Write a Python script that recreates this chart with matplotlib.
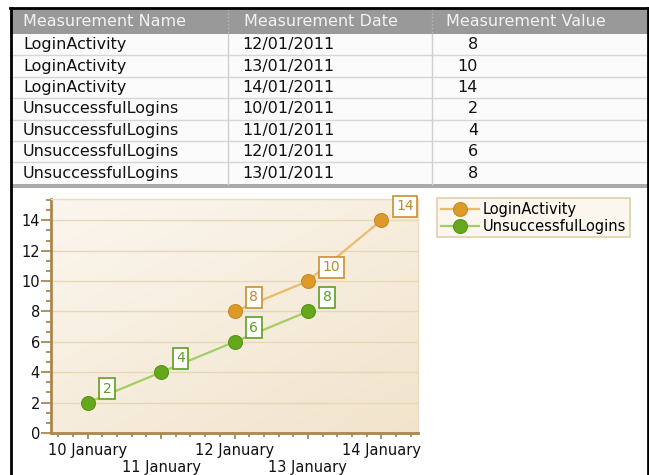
"""Tabela pomiarow + wykres liniowy (LoginActivity / UnsuccessfulLogins)."""
import matplotlib
matplotlib.use("Agg")
import matplotlib.pyplot as plt
import matplotlib.dates as mdates
import numpy as np
from matplotlib.colors import LinearSegmentedColormap
from matplotlib.ticker import MultipleLocator, FuncFormatter

# --- dane ---
HEADERS = ["Measurement Name", "Measurement Date", "Measurement Value"]
ROW_NAMES = ["LoginActivity", "LoginActivity", "LoginActivity",
             "UnsuccessfulLogins", "UnsuccessfulLogins",
             "UnsuccessfulLogins", "UnsuccessfulLogins"]
ROW_DATES = ["12/01/2011", "13/01/2011", "14/01/2011",
             "10/01/2011", "11/01/2011", "12/01/2011", "13/01/2011"]
ROW_VALUES = [8, 10, 14, 2, 4, 6, 8]

LOGIN_DATES = np.array(["2011-01-12", "2011-01-13", "2011-01-14"], dtype="datetime64[D]")
LOGIN_VALUES = [8, 10, 14]
UNSUCC_DATES = np.array(["2011-01-10", "2011-01-11", "2011-01-12", "2011-01-13"],
                        dtype="datetime64[D]")
UNSUCC_VALUES = [2, 4, 6, 8]

SERIES = [
    ("LoginActivity", LOGIN_DATES, LOGIN_VALUES,
     dict(marker="#dd9a2a", edge="#c98a20", line="#eabb6c", box="#c8902e", text="#c08a2a")),
    ("UnsuccessfulLogins", UNSUCC_DATES, UNSUCC_VALUES,
     dict(marker="#66a81c", edge="#559416", line="#a2cf62", box="#5f9e22", text="#5f9e22")),
]

W, H = 649, 475
fig = plt.figure(figsize=(W / 100, H / 100), dpi=100)
fig.patch.set_facecolor("white")

# --- tlo strony / tabela (wspolrzedne w pikselach) ---
bg = fig.add_axes([0, 0, 1, 1], zorder=0)
bg.set_xlim(0, W)
bg.set_ylim(H, 0)
bg.axis("off")

COL_X = [10, 228, 432, 648]
HEAD_TOP, HEAD_BOT = 9, 34
ROW_H = 21.4
n_rows = len(ROW_NAMES)
table_bot = HEAD_BOT + n_rows * ROW_H

bg.fill_between([COL_X[0], COL_X[-1]], HEAD_TOP, HEAD_BOT, color="#999999", lw=0)
bg.fill_between([COL_X[0], COL_X[-1]], HEAD_BOT, table_bot, color="#fbfbfb", lw=0)
bg.fill_between([COL_X[0], COL_X[-1]], table_bot, table_bot + 4, color="#ababab", lw=0)
for i in range(1, n_rows):
    y = HEAD_BOT + i * ROW_H
    bg.plot([COL_X[0], COL_X[-1]], [y, y], color="#d6d6d6", lw=1)
for x in COL_X[1:-1]:
    bg.plot([x, x], [HEAD_TOP, HEAD_BOT], color="#bbbbbb", lw=1, ls=":")
    bg.plot([x, x], [HEAD_BOT, table_bot], color="#d0d0d0", lw=1)

head_x = [23, 244, 446]
for hx, txt in zip(head_x, HEADERS):
    bg.text(hx, (HEAD_TOP + HEAD_BOT) / 2, txt, color="#f2f2f2", fontsize=11.5,
            ha="left", va="center")
for i, (nm, dt, val) in enumerate(zip(ROW_NAMES, ROW_DATES, ROW_VALUES)):
    yc = HEAD_BOT + (i + 0.5) * ROW_H
    bg.text(23, yc, nm, fontsize=11.5, ha="left", va="center", color="#111111")
    bg.text(242, yc, dt, fontsize=11.5, ha="left", va="center", color="#111111")
    bg.text(478, yc, str(val), fontsize=11.5, ha="right", va="center", color="#111111")

# ramka strony
bg.plot([10.5, 10.5], [8, H], color="black", lw=2)
bg.plot([647.5, 647.5], [8, H], color="black", lw=2)
bg.plot([10, 648], [8, 8], color="black", lw=2)

# --- wykres ---
ax = fig.add_axes([51 / W, (H - 433) / H, (418 - 51) / W, (433 - 199) / H], zorder=2)
x0 = mdates.date2num(np.datetime64("2011-01-10"))
ax.set_xlim(x0 - 0.5, x0 + 4.5)
ax.set_ylim(0, 15.4)

# tlo panelu: jasne w lewym gornym rogu, ciemniejsze w prawym dolnym
cmap = LinearSegmentedColormap.from_list("bgpanel", ["#fbf6ee", "#f2e4cc"])
gx, gy = np.meshgrid(np.linspace(0, 1, 64), np.linspace(0, 1, 64))
ax.imshow(0.45 * gx + 0.55 * gy, cmap=cmap, aspect="auto", zorder=0,
          extent=(*ax.get_xlim(), 0, 15.4), interpolation="bilinear")
ax.set_ylim(0, 15.4)

ax.yaxis.set_major_locator(MultipleLocator(2))
ax.yaxis.set_minor_locator(MultipleLocator(2 / 3))
ax.xaxis.set_major_locator(MultipleLocator(1))
ax.xaxis.set_minor_locator(MultipleLocator(0.2))
ax.grid(axis="y", which="major", color="#e6d7b6", lw=1, zorder=1)


def day_label(v, pos):
    d = mdates.num2date(v)
    lab = f"{d.day} January"
    return lab if (d.day % 2 == 0) else "\n" + lab


ax.xaxis.set_major_formatter(FuncFormatter(day_label))

tick_c = "#a8884e"
ax.tick_params(axis="y", which="major", length=7, width=1.3, color=tick_c,
               labelsize=10.5, pad=1)
ax.tick_params(axis="y", which="minor", length=3.5, width=1.3, color=tick_c)
ax.tick_params(axis="x", which="major", length=4, width=1.3, color=tick_c,
               labelsize=10.5, pad=3)
ax.tick_params(axis="x", which="minor", length=3, width=1.3, color=tick_c)
for lab in ax.get_xticklabels() + ax.get_yticklabels():
    lab.set_color("#111111")

for side in ("left", "bottom"):
    ax.spines[side].set_color(tick_c)
    ax.spines[side].set_linewidth(2)
for side in ("top", "right"):
    ax.spines[side].set_color("#eadcbf")
    ax.spines[side].set_linewidth(1)

for name, dates, vals, c in SERIES:
    xs = mdates.date2num(dates)
    ax.plot(xs, vals, color=c["line"], lw=1.6, zorder=3)
    ax.plot(xs, vals, ls="none", marker="o", ms=10, mfc=c["marker"],
            mec=c["edge"], mew=0.8, zorder=4, label=name)
    for xv, yv in zip(xs, vals):
        ax.annotate(str(yv), (xv, yv), xytext=(15, 14), textcoords="offset pixels",
                    ha="left", va="center", fontsize=10, color=c["text"], zorder=6,
                    bbox=dict(boxstyle="square,pad=0.25", fc="white",
                              ec=c["box"], lw=1.2))

# legenda z liniami + markerami
handles = []
for name, dates, vals, c in SERIES:
    h, = ax.plot([], [], color=c["line"], lw=1.6, marker="o", ms=10,
                 mfc=c["marker"], mec=c["edge"], mew=0.8)
    handles.append(h)
leg = fig.legend(handles, [s[0] for s in SERIES], loc="upper left",
                 bbox_to_anchor=(437 / W, 1 - 198 / H), fontsize=10.5,
                 frameon=True, fancybox=False, framealpha=1, handlelength=2.6,
                 handletextpad=0.3, borderpad=0.25, labelspacing=0.15,
                 borderaxespad=0)
leg.get_frame().set_facecolor("#fbf6ee")
leg.get_frame().set_edgecolor("#e2cfaa")
leg.get_frame().set_linewidth(1.2)

fig.savefig("out.png", dpi=100)
